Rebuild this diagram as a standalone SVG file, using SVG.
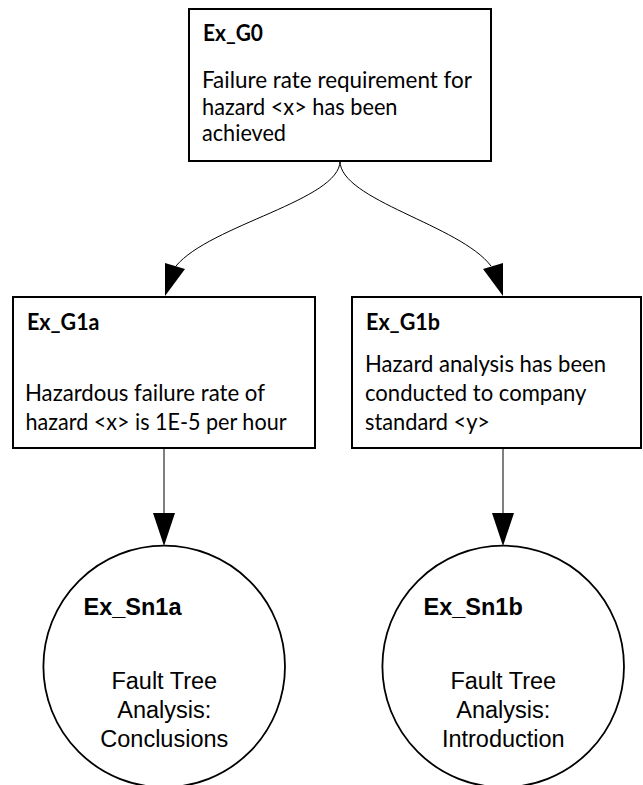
<svg xmlns="http://www.w3.org/2000/svg" width="643" height="785" viewBox="0 0 643 785">
  <style>
    .goal { fill: #fff; stroke: #000; stroke-width: 2; }
    .sol { fill: #fff; stroke: #000; stroke-width: 1.8; }
    .wire { fill: none; stroke: #000; stroke-width: 1; }
    .head { fill: #000; stroke: none; }
    .gid { font-family: Lato, "Liberation Sans", sans-serif; font-weight: bold; font-size: 22.5px; fill: #000; }
    .gtx { font-family: Lato, "Liberation Sans", sans-serif; font-size: 22.5px; fill: #000; }
    .sid { font-family: "Liberation Sans", Arial, sans-serif; font-weight: bold; font-size: 23.5px; fill: #000; }
    .stx { font-family: "Liberation Sans", Arial, sans-serif; font-size: 23.5px; fill: #000; text-anchor: middle; }
  </style>
  <rect width="643" height="785" fill="#fff"/>

  <!-- connectors -->
  <g id="connectors">
    <path class="wire" d="M340,161 C340,200 210,225 176,266"/>
    <polygon class="head" points="165,263 185,269 165,296"/>
    <path class="wire" d="M340,161 C340,200 460,225 491,266"/>
    <polygon class="head" points="503,263 483,269 503,296"/>
    <line class="wire" x1="164" y1="448" x2="164" y2="515"/>
    <polygon class="head" points="153,513 175,513 164,546"/>
    <line class="wire" x1="503" y1="448" x2="503" y2="515"/>
    <polygon class="head" points="492,513 514,513 503,546"/>
  </g>

  <!-- goal nodes -->
  <g id="Ex_G0">
    <rect class="goal" x="189" y="9" width="302" height="152"/>
    <text class="gid" x="203" y="41" textLength="60" lengthAdjust="spacingAndGlyphs">Ex_G0</text>
    <text class="gtx" x="202" y="88" textLength="270" lengthAdjust="spacingAndGlyphs">Failure rate requirement for</text>
    <text class="gtx" x="202" y="114.5" textLength="195.5" lengthAdjust="spacingAndGlyphs">hazard &lt;x&gt; has been</text>
    <text class="gtx" x="202" y="141" textLength="84" lengthAdjust="spacingAndGlyphs">achieved</text>
  </g>
  <g id="Ex_G1a">
    <rect class="goal" x="13" y="297" width="302" height="151"/>
    <text class="gid" x="27" y="330" textLength="72.5" lengthAdjust="spacingAndGlyphs">Ex_G1a</text>
    <text class="gtx" x="25" y="400.5" textLength="240" lengthAdjust="spacingAndGlyphs">Hazardous failure rate of</text>
    <text class="gtx" x="25.5" y="429.5" textLength="261" lengthAdjust="spacingAndGlyphs">hazard &lt;x&gt; is 1E-5 per hour</text>
  </g>
  <g id="Ex_G1b">
    <rect class="goal" x="352" y="297" width="289" height="151"/>
    <text class="gid" x="366" y="330" textLength="74" lengthAdjust="spacingAndGlyphs">Ex_G1b</text>
    <text class="gtx" x="365" y="371.5" textLength="241" lengthAdjust="spacingAndGlyphs">Hazard analysis has been</text>
    <text class="gtx" x="365" y="400.5" textLength="221.5" lengthAdjust="spacingAndGlyphs">conducted to company</text>
    <text class="gtx" x="365" y="429.5" textLength="125" lengthAdjust="spacingAndGlyphs">standard &lt;y&gt;</text>
  </g>

  <!-- solution nodes -->
  <g id="Ex_Sn1a">
    <circle class="sol" cx="164.2" cy="666.5" r="120.8"/>
    <text class="sid" x="83.5" y="615">Ex_Sn1a</text>
    <text class="stx" x="164.3" y="688.5">Fault Tree</text>
    <text class="stx" x="164.3" y="718">Analysis:</text>
    <text class="stx" x="164.3" y="746.5">Conclusions</text>
  </g>
  <g id="Ex_Sn1b">
    <circle class="sol" cx="503.2" cy="666.5" r="120.8"/>
    <text class="sid" x="423.5" y="615">Ex_Sn1b</text>
    <text class="stx" x="503.3" y="688.5">Fault Tree</text>
    <text class="stx" x="503.3" y="718">Analysis:</text>
    <text class="stx" x="503.3" y="746.5">Introduction</text>
  </g>
</svg>
